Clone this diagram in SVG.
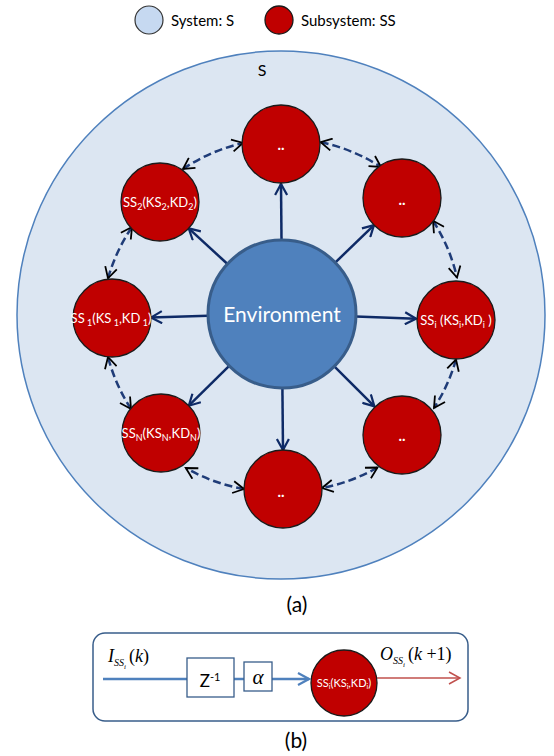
<svg xmlns="http://www.w3.org/2000/svg" width="554" height="756" viewBox="0 0 554 756">
<style>
.ss{fill:#c00000;stroke:#1a1a1a;stroke-width:1.3}
.lbl{font-family:Lato,"Open Sans",sans-serif;fill:#fff;font-size:13px;text-anchor:middle}
.sub{font-size:9px}
.dots{font-family:Lato,"Open Sans",sans-serif;fill:#fff;font-size:15px;font-weight:bold;text-anchor:middle}
.txt{font-family:Lato,"Open Sans",sans-serif;fill:#000}
.sol{stroke:#0e2a66;stroke-width:2.5;fill:none;marker-end:url(#nav)}
.dash{stroke:#1f3c78;stroke-width:2.5;fill:none;stroke-dasharray:8 4;marker-start:url(#blk);marker-end:url(#blk)}
.math{font-family:"Liberation Serif",serif;fill:#000}
</style>
<defs>
<marker id="nav" viewBox="0 0 14 14" refX="12" refY="7" markerWidth="14" markerHeight="14" markerUnits="userSpaceOnUse" orient="auto"><path d="M1,1 L12,7 L1,13" fill="none" stroke="#0e2a66" stroke-width="2.2"/></marker>
<marker id="blk" viewBox="0 0 14 14" refX="12" refY="7" markerWidth="14" markerHeight="14" markerUnits="userSpaceOnUse" orient="auto-start-reverse"><path d="M1,1 L12,7 L1,13" fill="none" stroke="#000" stroke-width="1.8"/></marker>
<marker id="blu" viewBox="0 0 14 14" refX="12" refY="7" markerWidth="14" markerHeight="14" markerUnits="userSpaceOnUse" orient="auto"><path d="M1,1 L12,7 L1,13" fill="none" stroke="#4f81bd" stroke-width="2.2"/></marker>
<marker id="red" viewBox="0 0 14 14" refX="12" refY="7" markerWidth="14" markerHeight="14" markerUnits="userSpaceOnUse" orient="auto"><path d="M1,1 L12,7 L1,13" fill="none" stroke="#c0504d" stroke-width="1.5"/></marker>
</defs>
<rect width="554" height="756" fill="#fff"/>
<g id="legend">
<circle cx="149" cy="20" r="14" fill="#c6d9f1" stroke="#333" stroke-width="1.2"/>
<text class="txt" x="171" y="26" font-size="15">System: S</text>
<circle cx="279" cy="20" r="14" class="ss"/>
<text class="txt" x="301" y="26" font-size="15">Subsystem: SS</text>
</g>
<g id="system">
<circle cx="281" cy="315" r="264" fill="#dce6f2" stroke="#4f81bd" stroke-width="1.5"/>
<text class="txt" x="262" y="76" font-size="16" text-anchor="middle">S</text>
</g>
<g id="connectors">
<path class="sol" d="M281.5,240 L281,184"/>
<path class="sol" d="M335.2,262.6 L374,225.1"/>
<path class="sol" d="M356,316.6 L416,318.7"/>
<path class="sol" d="M334.3,366.3 L374.4,406.4"/>
<path class="sol" d="M282.4,388 L283,450"/>
<path class="sol" d="M229.2,365.9 L188.8,405.7"/>
<path class="sol" d="M208,315.7 L151,317.5"/>
<path class="sol" d="M227.5,264 L188.7,228.4"/>
<path class="dash" d="M320.7,142.2 A179,179 0 0 1 381,167"/>
<path class="dash" d="M433,220.8 A179,179 0 0 1 457,277.5"/>
<path class="dash" d="M456,359.5 A179,179 0 0 1 434,408"/>
<path class="dash" d="M377.5,467.5 A179,179 0 0 1 322,488"/>
<path class="dash" d="M244,489 A179,179 0 0 1 185.8,468"/>
<path class="dash" d="M131,409 A179,179 0 0 1 108,357"/>
<path class="dash" d="M108,278.3 A179,179 0 0 1 132,227"/>
<path class="dash" d="M183,169 A179,179 0 0 1 243,143"/>
</g>
<g id="env">
<circle cx="282" cy="314" r="74" fill="#4f81bd" stroke="#385d8a" stroke-width="3"/>
<text x="282" y="322" font-family="Lato,'Open Sans',sans-serif" font-size="21" fill="#fff" text-anchor="middle">Environment</text>
</g>
<g id="n0"><circle class="ss" cx="281" cy="144" r="39"/><text class="dots" x="281" y="150">..</text></g>
<g id="n1"><circle class="ss" cx="402" cy="198" r="39"/><text class="dots" x="402" y="205">..</text></g>
<g id="n2"><circle class="ss" cx="456" cy="320" r="39"/><text class="lbl" x="456" y="325">SS<tspan class="sub" dy="3">i</tspan><tspan dy="-3"> (KS</tspan><tspan class="sub" dy="3">i</tspan><tspan dy="-3">,KD</tspan><tspan class="sub" dy="3">i</tspan><tspan dy="-3"> )</tspan></text></g>
<g id="n3"><circle class="ss" cx="402" cy="435" r="39"/><text class="dots" x="402" y="441">..</text></g>
<g id="n4"><circle class="ss" cx="283" cy="489" r="39"/><text class="dots" x="281" y="497">..</text></g>
<g id="n5"><circle class="ss" cx="161" cy="433" r="39"/><text class="lbl" x="161" y="438">SS<tspan class="sub" dy="3">N</tspan><tspan dy="-3">(KS</tspan><tspan class="sub" dy="3">N</tspan><tspan dy="-3">,KD</tspan><tspan class="sub" dy="3">N</tspan><tspan dy="-3">)</tspan></text></g>
<g id="n6"><circle class="ss" cx="112" cy="318" r="39"/><text class="lbl" x="111" y="323">SS<tspan class="sub" dy="3"> 1</tspan><tspan dy="-3">(KS</tspan><tspan class="sub" dy="3"> 1</tspan><tspan dy="-3">,KD</tspan><tspan class="sub" dy="3"> 1</tspan><tspan dy="-3">)</tspan></text></g>
<g id="n7"><circle class="ss" cx="160" cy="202" r="39"/><text class="lbl" x="160" y="207">SS<tspan class="sub" dy="3">2</tspan><tspan dy="-3">(KS</tspan><tspan class="sub" dy="3">2</tspan><tspan dy="-3">,KD</tspan><tspan class="sub" dy="3">2</tspan><tspan dy="-3">)</tspan></text></g>
<text class="txt" x="297" y="612" font-size="21" text-anchor="middle">(a)</text>
<g id="partb">
<rect x="93" y="633" width="375" height="88" rx="12" fill="#fff" stroke="#385d8a" stroke-width="1.5"/>
<path d="M103,679 L187,679 M234,679 L244,679" stroke="#4f81bd" stroke-width="2.5" fill="none"/>
<path d="M272,679 L309,679" stroke="#4f81bd" stroke-width="2.5" fill="none" marker-end="url(#blu)"/>
<path d="M377,678 L460,678" stroke="#c0504d" stroke-width="1.5" fill="none" marker-end="url(#red)"/>
<rect x="187" y="658" width="47" height="39" fill="#fff" stroke="#385d8a" stroke-width="1.3"/>
<rect x="244" y="662" width="28" height="29" fill="#fff" stroke="#385d8a" stroke-width="1.3"/>
<text class="txt" x="210" y="687" font-size="17" text-anchor="middle">Z<tspan font-size="11" dy="-6">-1</tspan></text>
<text class="math" x="258" y="684" font-size="21" font-style="italic" text-anchor="middle">α</text>
<text class="math" x="108" y="662" font-size="18"><tspan font-style="italic">I</tspan><tspan font-style="italic" font-size="10" dy="4">SS</tspan><tspan font-style="italic" font-size="7" dy="3">i</tspan><tspan dy="-7" dx="3">(</tspan><tspan font-style="italic">k</tspan>)</text>
<text class="math" x="380" y="660" font-size="18"><tspan font-style="italic">O</tspan><tspan font-style="italic" font-size="10" dy="4">SS</tspan><tspan font-style="italic" font-size="7" dy="3">i</tspan><tspan dy="-7" dx="3">(</tspan><tspan font-style="italic">k</tspan> +1)</text>
</g>
<g id="nb"><circle class="ss" cx="344" cy="683" r="33"/><text class="lbl" x="344" y="687" style="font-size:11px">SS<tspan style="font-size:7px" dy="2">i</tspan><tspan dy="-2">(KS</tspan><tspan style="font-size:7px" dy="2">i</tspan><tspan dy="-2">,KD</tspan><tspan style="font-size:7px" dy="2">i</tspan><tspan dy="-2">)</tspan></text></g>
<text class="txt" x="296" y="748" font-size="21" text-anchor="middle">(b)</text>
</svg>
